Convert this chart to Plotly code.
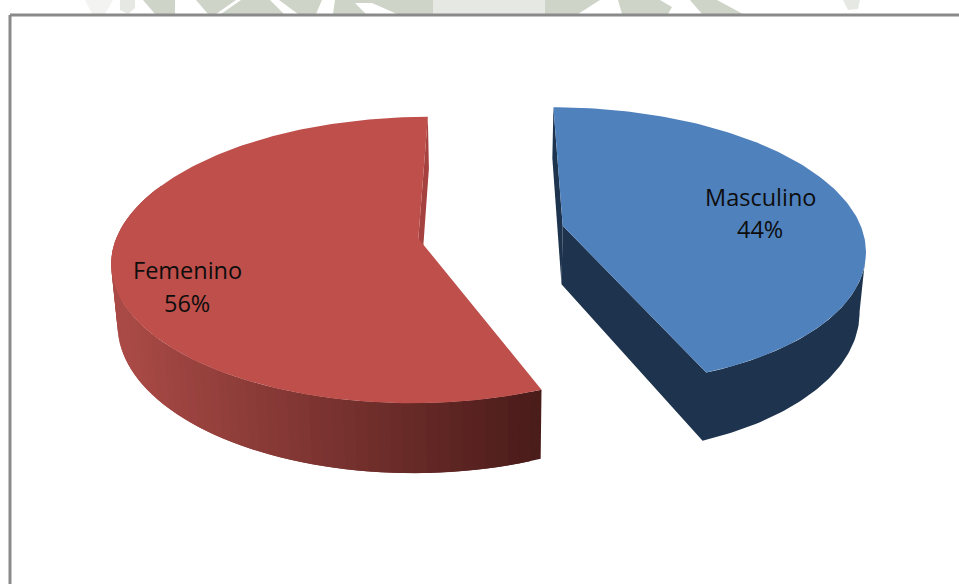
import numpy as np
import plotly.graph_objects as go

# Survey split by sex
categories = ["Masculino", "Femenino"]
percentages = [44, 56]

# Viewing model for the tilted, exploded pie
CENTER_X, CENTER_Y = 491, 232
RADIUS = 300
TILT = 138
PERSPECTIVE = 0.15
NEAR_SKEW = 6
THICKNESS = 59
FLOOR_SHRINK = 0.983
EXPLODE = 0.245

MASC_TOP, MASC_WALL = "#4F81BD", "#1E334E"
FEM_TOP, FEM_CUT = "#BE4F4B", "#A5413F"
FEM_WALL_LIGHT = np.array([170, 74, 70])
FEM_WALL_DARK = np.array([74, 28, 26])

LABEL_COLOR = "#0D0D0D"
LABEL_CENTERS = {"Masculino": (760, 197, 229), "Femenino": (187, 270, 303)}

# Page furniture showing behind the chart above its frame
SAGE, PALE_SAGE, FAINT_SAGE = "#CFD4C9", "#E6E8E4", "#F3F4F1"
BACKDROP = [
    (FAINT_SAGE, [(85, 0), (113, 0), (105, 14), (92, 14)]),
    (PALE_SAGE, [(120, 0), (135, 0), (135, 8), (128, 14), (120, 10)]),
    (SAGE, [(143, 0), (175, 0), (175, 14), (155, 14)]),
    (SAGE, [(196, 0), (236, 0), (216, 14), (208, 14)]),
    (SAGE, [(241, 0), (270, 0), (284, 14), (221, 14)]),
    (SAGE, [(279, 0), (322, 0), (316, 14), (298, 14)]),
    (SAGE, [(335, 0), (433, 0), (433, 14), (397, 14), (372, 3), (355, 3), (366, 14), (333, 14)]),
    (PALE_SAGE, [(433, 0), (545, 0), (545, 14), (433, 14)]),
    (SAGE, [(545, 0), (600, 0), (578, 14), (545, 14)]),
    (SAGE, [(618, 0), (660, 0), (672, 7), (668, 14), (622, 14)]),
    (SAGE, [(690, 0), (717, 0), (743, 14), (702, 14)]),
    (PALE_SAGE, [(843, 0), (860, 0), (858, 9), (848, 10)]),
]


def project(theta, radius, offset, floor=False):
    """Project a polar point on the pie (clockwise from the back) to the page."""
    across = radius * np.sin(theta) + offset[0]
    toward = -radius * np.cos(theta) + offset[1]
    scale = 1 / (1 - PERSPECTIVE * toward)
    x = RADIUS * across * scale + NEAR_SKEW * np.clip(toward, 0, None) ** 2
    y = TILT * toward * scale
    if floor:
        x = x * FLOOR_SHRINK
        y = y + THICKNESS * scale
    return CENTER_X + x, CENTER_Y + y


def polygon(xs, ys, color):
    return go.Scatter(
        x=list(xs), y=list(ys), mode="lines", fill="toself", fillcolor=color,
        line=dict(color=color, width=0), hoverinfo="skip", showlegend=False,
    )


fig = go.Figure()

# Masculino runs clockwise from the back of the pie, Femenino takes the rest
masc_sweep = 2 * np.pi * percentages[0] / sum(percentages)
fem_sweep = 2 * np.pi * percentages[1] / sum(percentages)
masc_angles = np.linspace(0, masc_sweep, 160)
fem_angles = np.linspace(masc_sweep, masc_sweep + fem_sweep, 220)


def offset_for(angles):
    mid = angles.mean()
    return EXPLODE * np.sin(mid), -EXPLODE * np.cos(mid)


fem_off = offset_for(fem_angles)
masc_off = offset_for(masc_angles)

# Femenino: inner cut, shaded outer wall in overlapping strips, then the top face
ax_top, ay_top = project(0.0, 0.0, fem_off)
ax_bot, ay_bot = project(0.0, 0.0, fem_off, floor=True)
sx_top, sy_top = project(2 * np.pi, 1.0, fem_off)
sx_bot, sy_bot = project(2 * np.pi, 1.0, fem_off, floor=True)
fig.add_trace(polygon([ax_top, sx_top, sx_bot, ax_bot], [ay_top, sy_top, sy_bot, ay_bot], FEM_CUT))

left_x, _ = project(1.5 * np.pi, 1.0, fem_off)
right_x, _ = project(masc_sweep, 1.0, fem_off)
wall_end = 1.62 * np.pi
strip_edges = np.linspace(masc_sweep, wall_end, 70)
step = strip_edges[1] - strip_edges[0]
# Painted from the dark front edge backwards, each strip tucks under the next
for a0 in strip_edges[:-1]:
    seg = np.linspace(a0, a0 + 2 * step, 4)
    xt, yt = project(seg, 1.0, fem_off)
    xb, yb = project(seg[::-1], 1.0, fem_off, floor=True)
    t = np.clip((left_x + 8 - xt[0]) / (left_x + 8 - right_x), 0, 1)
    rgb = (FEM_WALL_LIGHT * (1 - t) + FEM_WALL_DARK * t).round().astype(int)
    fig.add_trace(polygon(np.r_[xt, xb], np.r_[yt, yb], f"rgb({rgb[0]},{rgb[1]},{rgb[2]})"))

xt, yt = project(fem_angles, 1.0, fem_off)
fig.add_trace(polygon(np.r_[ax_top, xt], np.r_[ay_top, yt], FEM_TOP))

# Masculino: back cut, then the outer wall and front cut as one navy band, then the top face
ax_top, ay_top = project(0.0, 0.0, masc_off)
ax_bot, ay_bot = project(0.0, 0.0, masc_off, floor=True)
xt, yt = project(masc_angles, 1.0, masc_off)
xb, yb = project(masc_angles, 1.0, masc_off, floor=True)
fig.add_trace(polygon([ax_top, xt[0], xb[0], ax_bot], [ay_top, yt[0], yb[0], ay_bot], MASC_WALL))
rim_start = int(np.argmax(xt))
fig.add_trace(polygon(
    np.r_[ax_top, ax_bot, xb[:rim_start - 1:-1], xt[rim_start:]],
    np.r_[ay_top, ay_bot, yb[:rim_start - 1:-1], yt[rim_start:]],
    MASC_WALL,
))
fig.add_trace(polygon(np.r_[ax_top, xt], np.r_[ay_top, yt], MASC_TOP))

# Two-line data labels
annotations = []
for name, value in zip(categories, percentages):
    cx, y_name, y_value = LABEL_CENTERS[name]
    for text, y in ((name, y_name), (f"{value}%", y_value)):
        annotations.append(dict(
            x=cx, y=y, text=text, showarrow=False, xanchor="center", yanchor="middle",
            font=dict(family="Open Sans, sans-serif", size=23.5, color=LABEL_COLOR),
        ))

# Chart frame, open on the right and bottom edges of the page
frame = dict(type="line", line=dict(color="#8A8A8A", width=3), layer="above")
shapes = [
    dict(frame, x0=10, x1=959, y0=15, y1=15),
    dict(frame, x0=10, x1=10, y0=15, y1=584),
]
for color, corners in BACKDROP:
    path = "M " + " L ".join(f"{x},{y}" for x, y in corners) + " Z"
    shapes.append(dict(type="path", path=path, fillcolor=color, line=dict(width=0), layer="below"))

fig.update_layout(
    width=959, height=584, margin=dict(l=0, r=0, t=0, b=0),
    paper_bgcolor="white", plot_bgcolor="white", showlegend=False,
    xaxis=dict(range=[0, 959], visible=False, fixedrange=True),
    yaxis=dict(range=[584, 0], visible=False, fixedrange=True),
    annotations=annotations, shapes=shapes,
)
fig.write_html("out.html", config={"displayModeBar": False})
